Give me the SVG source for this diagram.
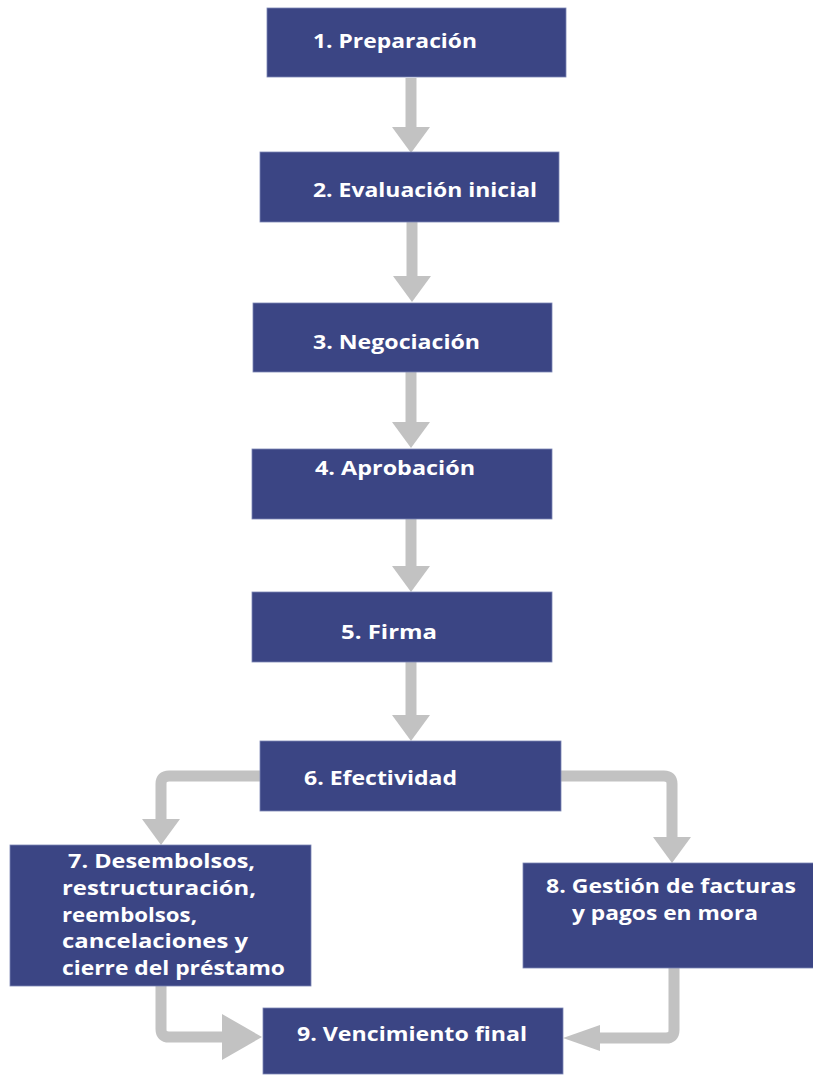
<svg xmlns="http://www.w3.org/2000/svg" width="813" height="1076" viewBox="0 0 813 1076">
  <style>
    .box { fill: #3B4584; stroke: #7C86B4; stroke-width: 0.8; }
    .lbl { fill: #FFFFFF; font-family: "Open Sans", "Liberation Sans", sans-serif; font-weight: 700; font-size: 20px; }
    .flow { fill: none; stroke: #C2C2C2; stroke-width: 11; stroke-linejoin: round; }
    .head { fill: #C2C2C2; }
  </style>
  <defs>
    <!-- standard arrowhead: 26 long, 38 wide -->
    <marker id="tip" markerUnits="userSpaceOnUse" viewBox="0 0 26 38" markerWidth="26" markerHeight="38" refX="0" refY="19" orient="auto">
      <path class="head" d="M0,0 L26,19 L0,38 Z"/>
    </marker>
    <!-- wide head into step 9 from the left -->
    <marker id="tipWide" markerUnits="userSpaceOnUse" viewBox="0 0 40 46" markerWidth="40" markerHeight="46" refX="0" refY="23" orient="auto">
      <path class="head" d="M0,0 L40,23 L0,46 Z"/>
    </marker>
    <!-- slim head into step 9 from the right -->
    <marker id="tipSlim" markerUnits="userSpaceOnUse" viewBox="0 0 37 26" markerWidth="37" markerHeight="26" refX="0" refY="13" orient="auto">
      <path class="head" d="M0,0 L37,13 L0,26 Z"/>
    </marker>
  </defs>

  <rect width="813" height="1076" fill="#FFFFFF"/>

  <g id="connectors">
    <path class="flow" d="M411,78 V127" marker-end="url(#tip)"/>
    <path class="flow" d="M412,222 V276" marker-end="url(#tip)"/>
    <path class="flow" d="M411,372 V422" marker-end="url(#tip)"/>
    <path class="flow" d="M411,519 V566" marker-end="url(#tip)"/>
    <path class="flow" d="M411,662 V715" marker-end="url(#tip)"/>
    <path class="flow" d="M261,776 H169 Q161,776 161,784 V819" marker-end="url(#tip)"/>
    <path class="flow" d="M561,776 H664 Q672,776 672,784 V837" marker-end="url(#tip)"/>
    <path class="flow" d="M161,986 V1029 Q161,1037 169,1037 H222" marker-end="url(#tipWide)"/>
    <path class="flow" d="M674,968 V1030 Q674,1038 666,1038 H600" marker-end="url(#tipSlim)"/>
  </g>

  <g id="step1">
    <rect class="box" x="267" y="8" width="299" height="69"/>
    <text class="lbl" x="313" y="48" textLength="164" lengthAdjust="spacingAndGlyphs">1. Preparación</text>
  </g>
  <g id="step2">
    <rect class="box" x="260" y="152" width="299" height="70"/>
    <text class="lbl" x="313" y="197" textLength="224" lengthAdjust="spacingAndGlyphs">2. Evaluación inicial</text>
  </g>
  <g id="step3">
    <rect class="box" x="253" y="303" width="299" height="69"/>
    <text class="lbl" x="313" y="349" textLength="167" lengthAdjust="spacingAndGlyphs">3. Negociación</text>
  </g>
  <g id="step4">
    <rect class="box" x="252" y="449" width="300" height="70"/>
    <text class="lbl" x="315" y="475" textLength="160" lengthAdjust="spacingAndGlyphs">4. Aprobación</text>
  </g>
  <g id="step5">
    <rect class="box" x="252" y="592" width="300" height="70"/>
    <text class="lbl" x="341" y="639" textLength="96" lengthAdjust="spacingAndGlyphs">5. Firma</text>
  </g>
  <g id="step6">
    <rect class="box" x="260" y="741" width="301" height="70"/>
    <text class="lbl" x="304" y="785" textLength="153" lengthAdjust="spacingAndGlyphs">6. Efectividad</text>
  </g>
  <g id="step7">
    <rect class="box" x="10" y="845" width="301" height="141"/>
    <text class="lbl" x="68" y="868" textLength="187" lengthAdjust="spacingAndGlyphs">7. Desembolsos,</text>
    <text class="lbl" x="62" y="895" textLength="194" lengthAdjust="spacingAndGlyphs">restructuración,</text>
    <text class="lbl" x="62" y="922" textLength="135" lengthAdjust="spacingAndGlyphs">reembolsos,</text>
    <text class="lbl" x="62" y="948" textLength="186" lengthAdjust="spacingAndGlyphs">cancelaciones y</text>
    <text class="lbl" x="62" y="975" textLength="223" lengthAdjust="spacingAndGlyphs">cierre del préstamo</text>
  </g>
  <g id="step8">
    <rect class="box" x="523" y="863" width="295" height="105"/>
    <text class="lbl" x="546" y="893" textLength="250" lengthAdjust="spacingAndGlyphs">8. Gestión de facturas</text>
    <text class="lbl" x="572" y="920" textLength="186" lengthAdjust="spacingAndGlyphs">y pagos en mora</text>
  </g>
  <g id="step9">
    <rect class="box" x="263" y="1008" width="300" height="66"/>
    <text class="lbl" x="297" y="1041" textLength="230" lengthAdjust="spacingAndGlyphs">9. Vencimiento final</text>
  </g>
</svg>
